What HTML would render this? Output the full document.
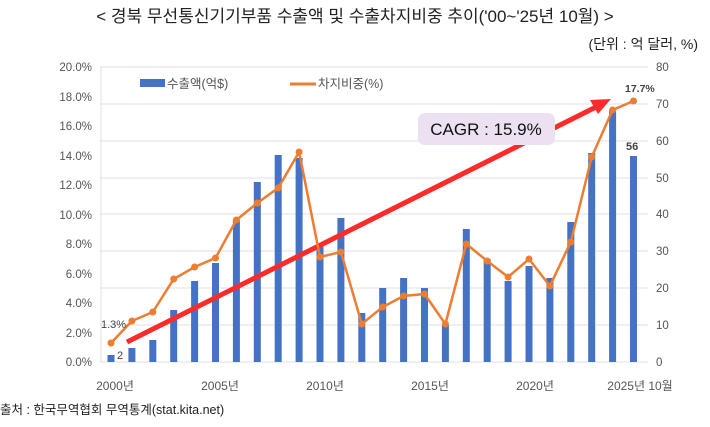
<!DOCTYPE html>
<html><head><meta charset="utf-8"><style>
body{margin:0;background:#fff;}
svg text{font-family:"Liberation Sans","Noto Sans CJK KR",sans-serif;}
</style></head><body>
<svg width="710" height="422" viewBox="0 0 710 422" xmlns="http://www.w3.org/2000/svg">
<rect width="710" height="422" fill="#fff"/>
<text x="355" y="22" font-size="17" text-anchor="middle" fill="#222">&lt; 경북 무선통신기기부품 수출액 및 수출차지비중 추이('00~'25년 10월) &gt;</text>
<text x="698" y="49" font-size="14" text-anchor="end" fill="#222">(단위 : 억 달러, %)</text>
<g stroke="#e0e0e0" stroke-width="1">
<line x1="100" x2="648" y1="67" y2="67"/><line x1="100" x2="648" y1="104" y2="104"/>
<line x1="100" x2="648" y1="141" y2="141"/><line x1="100" x2="648" y1="178" y2="178"/>
<line x1="100" x2="648" y1="214" y2="214"/><line x1="100" x2="648" y1="251" y2="251"/>
<line x1="100" x2="648" y1="288" y2="288"/><line x1="100" x2="648" y1="325" y2="325"/>
<line x1="100" x2="648" y1="362" y2="362"/>
<line x1="101" x2="101" y1="67" y2="362"/>
</g>
<g font-size="11.5" fill="#555" text-anchor="end">
<text x="92" y="71">20.0%</text><text x="92" y="101">18.0%</text><text x="92" y="130">16.0%</text>
<text x="92" y="160">14.0%</text><text x="92" y="189">12.0%</text><text x="92" y="219">10.0%</text>
<text x="92" y="248">8.0%</text><text x="92" y="278">6.0%</text><text x="92" y="307">4.0%</text>
<text x="92" y="337">2.0%</text><text x="92" y="366">0.0%</text>
</g>
<g font-size="11.5" fill="#555" text-anchor="start">
<text x="656" y="71">80</text><text x="656" y="108">70</text><text x="656" y="145">60</text>
<text x="656" y="182">50</text><text x="656" y="218">40</text><text x="656" y="255">30</text>
<text x="656" y="292">20</text><text x="656" y="329">10</text><text x="656" y="366">0</text>
</g>
<g fill="#4472c4">
<rect x="107.5" y="355" width="7" height="7"/><rect x="128.4" y="348" width="7" height="14"/>
<rect x="149.3" y="340" width="7" height="22"/><rect x="170.2" y="310" width="7" height="52"/>
<rect x="191.1" y="281" width="7" height="81"/><rect x="212" y="263" width="7" height="99"/>
<rect x="232.9" y="220" width="7" height="142"/><rect x="253.8" y="182" width="7" height="180"/>
<rect x="274.7" y="155" width="7" height="207"/><rect x="295.6" y="158" width="7" height="204"/>
<rect x="316.5" y="243" width="7" height="119"/><rect x="337.4" y="218" width="7" height="144"/>
<rect x="358.3" y="313" width="7" height="49"/><rect x="379.2" y="288" width="7" height="74"/>
<rect x="400.1" y="278" width="7" height="84"/><rect x="421" y="288" width="7" height="74"/>
<rect x="441.9" y="325" width="7" height="37"/><rect x="462.8" y="229" width="7" height="133"/>
<rect x="483.7" y="259" width="7" height="103"/><rect x="504.6" y="281" width="7" height="81"/>
<rect x="525.5" y="266" width="7" height="96"/><rect x="546.4" y="278" width="7" height="84"/>
<rect x="567.3" y="222" width="7" height="140"/><rect x="588.2" y="153" width="7" height="209"/>
<rect x="609.1" y="110" width="7" height="252"/><rect x="630" y="156" width="7" height="206"/>
</g>
<line x1="127" y1="342" x2="598" y2="106" stroke="#ff2a2a" stroke-width="5"/>
<polygon points="611,99 590,100 598,114" fill="#ff2a2a"/>
<polyline fill="none" stroke="#ed7d31" stroke-width="2.5" points="111,343 131.9,321 152.8,312 173.7,279 194.6,267 215.5,258 236.4,220 257.3,203 278.2,188 299.1,152 320,257 340.9,252 361.8,324 382.7,307 403.6,296 424.5,294 445.4,324 466.3,244 487.2,261 508.1,277 529,259 549.9,286 570.8,242 591.7,157 612.6,110 633.5,101"/>
<g fill="#ed7d31">
<circle cx="111" cy="343" r="3.5"/><circle cx="131.9" cy="321" r="3.5"/><circle cx="152.8" cy="312" r="3.5"/><circle cx="173.7" cy="279" r="3.5"/><circle cx="194.6" cy="267" r="3.5"/><circle cx="215.5" cy="258" r="3.5"/><circle cx="236.4" cy="220" r="3.5"/><circle cx="257.3" cy="203" r="3.5"/><circle cx="278.2" cy="188" r="3.5"/><circle cx="299.1" cy="152" r="3.5"/><circle cx="320" cy="257" r="3.5"/><circle cx="340.9" cy="252" r="3.5"/><circle cx="361.8" cy="324" r="3.5"/><circle cx="382.7" cy="307" r="3.5"/><circle cx="403.6" cy="296" r="3.5"/><circle cx="424.5" cy="294" r="3.5"/><circle cx="445.4" cy="324" r="3.5"/><circle cx="466.3" cy="244" r="3.5"/><circle cx="487.2" cy="261" r="3.5"/><circle cx="508.1" cy="277" r="3.5"/><circle cx="529" cy="259" r="3.5"/><circle cx="549.9" cy="286" r="3.5"/><circle cx="570.8" cy="242" r="3.5"/><circle cx="591.7" cy="157" r="3.5"/><circle cx="612.6" cy="110" r="3.5"/><circle cx="633.5" cy="101" r="3.5"/>
</g>
<rect x="418" y="113" width="137" height="32" rx="7" fill="#ece1f1"/>
<text x="486" y="135" font-size="17" text-anchor="middle" fill="#111">CAGR : 15.9%</text>
<text x="101" y="328" font-size="11" fill="#444">1.3%</text>
<text x="117" y="359" font-size="11" fill="#444">2</text>
<text x="625" y="92" font-size="10.5" font-weight="bold" fill="#444">17.7%</text>
<text x="626" y="150" font-size="11" font-weight="bold" fill="#444">56</text>
<rect x="140" y="79" width="25" height="8" fill="#4472c4"/>
<text x="167" y="88" font-size="12.5" fill="#555">수출액(억$)</text>
<line x1="290" x2="316" y1="84" y2="84" stroke="#ed7d31" stroke-width="3"/>
<text x="318" y="88" font-size="12.5" fill="#555">차지비중(%)</text>
<g font-size="12" fill="#555" text-anchor="middle">
<text x="115" y="390">2000년</text><text x="220" y="390">2005년</text><text x="325" y="390">2010년</text>
<text x="430" y="390">2015년</text><text x="535" y="390">2020년</text><text x="640" y="390">2025년 10월</text>
</g>
<text x="0" y="414" font-size="12.5" fill="#222">출처 : 한국무역협회 무역통계(stat.kita.net)</text>
</svg>
</body></html>
